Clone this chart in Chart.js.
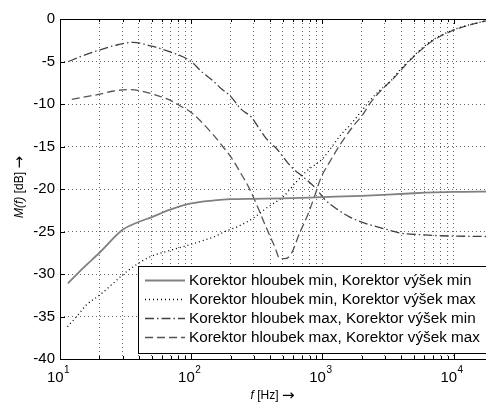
<!DOCTYPE html>
<html>
<head>
<meta charset="utf-8">
<script src="https://cdn.jsdelivr.net/npm/chart.js@4.4.0/dist/chart.umd.min.js"></script>
<style>
  html, body { margin: 0; padding: 0; background: #fff; overflow: hidden; }
  #wrap { width: 496px; height: 405px; }
</style>
</head>
<body>
<div id="wrap"><canvas id="graf" width="496" height="405"></canvas></div>
<script>
// hloubky min, výšky min
const fMinMin = [11.5, 15, 20, 30, 38, 50, 70, 100, 150, 200, 300, 500, 1000, 2000, 5000, 10000, 20000];
const dbMinMin = [-31.1, -29.3, -27.5, -24.8, -24.0, -23.3, -22.4, -21.7, -21.35, -21.2, -21.15, -21.1, -20.95, -20.8, -20.5, -20.35, -20.3];
// hloubky min, výšky max
const fMinMax = [11.4, 13.4, 16, 20, 25, 30, 40, 50, 70, 100, 150, 181, 228, 306, 386, 504, 614, 758, 1010, 1160, 1390, 1620, 2020, 2300, 2740, 3270, 3800, 4640, 6600, 9900, 20000];
const dbMinMax = [-36.2, -35.0, -33.6, -32.5, -31.2, -30.1, -28.7, -27.9, -27.2, -26.5, -25.6, -25.0, -24.4, -23.3, -22.1, -20.9, -19.4, -17.9, -16.4, -15.2, -13.6, -12.5, -10.7, -9.6, -8.4, -7.4, -6.2, -4.8, -2.7, -1.3, 0];
// hloubky max, výšky min
const fMaxMin = [11.6, 15, 20, 28, 36, 50, 70, 100, 120, 145, 170, 200, 240, 290, 330, 385, 445, 580, 730, 900, 1040, 1300, 1620, 2000, 3000, 4000, 6000, 8000, 20000];
const dbMaxMin = [-5.0, -4.3, -3.65, -3.0, -2.75, -3.2, -3.9, -5.0, -6.2, -7.2, -8.2, -9.1, -10.6, -11.6, -12.9, -14.3, -15.2, -17.4, -18.7, -20.0, -21.2, -22.4, -23.3, -23.9, -24.7, -25.2, -25.4, -25.5, -25.6];
// hloubky max, výšky max
const fMaxMax = [12.3, 15, 20, 25, 34, 50, 70, 82, 100, 147, 174, 200, 236, 281, 325, 375, 434, 475, 520, 580, 670, 780, 870, 980, 1100, 1390, 1700, 2020, 2370, 2880, 3430, 4640, 6600, 9900, 20000];
const dbMaxMax = [-9.45, -9.2, -8.85, -8.5, -8.3, -8.8, -9.6, -10.2, -11.0, -13.6, -15.0, -16.2, -18.0, -20.1, -22.3, -24.6, -26.8, -28.2, -28.2, -27.6, -25.2, -22.9, -20.9, -18.6, -17.2, -14.6, -12.7, -11.3, -9.7, -8.2, -7.1, -4.9, -2.8, -1.35, 0];

const popisky = [
  "Korektor hloubek min, Korektor výšek min",
  "Korektor hloubek min, Korektor výšek max",
  "Korektor hloubek max, Korektor výšek min",
  "Korektor hloubek max, Korektor výšek max"
];

// osa x: dekády a pomocné čáry mřížky
const dekady = [10, 100, 1000, 10000];
const exponenty = ["1", "2", "3", "4"];
const mrizkaF = [];
dekady.forEach(d => { for (let k = 1; k <= 9; k++) mrizkaF.push(d * k); });
const yTicks = [0, -5, -10, -15, -20, -25, -30, -35, -40];

const FONT = "'Liberation Sans', Arial, sans-serif";
const SIPKA = "'DejaVu Sans', sans-serif";
Chart.defaults.font.family = FONT;
Chart.defaults.color = "#000";

const body = (f, db) => f.map((v, i) => ({ x: v, y: db[i] }));

// text "kurzíva + zbytek + šipka" vycentrovaný na (0,0)
function popisOsy(ctx, kurziva, zbytek) {
  ctx.font = "italic 12px " + FONT;
  const w1 = ctx.measureText(kurziva).width;
  ctx.font = "12px " + FONT;
  const w2 = ctx.measureText(zbytek).width;
  ctx.font = "15px " + SIPKA;
  const w3 = ctx.measureText("\u2192").width;
  let sx = -(w1 + w2 + w3) / 2;
  ctx.textBaseline = "middle";
  ctx.textAlign = "left";
  ctx.font = "italic 12px " + FONT;
  ctx.fillText(kurziva, sx, 0);
  ctx.font = "12px " + FONT;
  ctx.fillText(zbytek, sx + w1, 0);
  ctx.font = "15px " + SIPKA;
  ctx.fillText("\u2192", sx + w1 + w2, 0);
}

const ramecek = {
  id: "ramecek",
  afterDraw(chart) {
    const { ctx, chartArea: a, scales: { x, y } } = chart;
    ctx.save();
    // značky dovnitř (styl Matlab)
    ctx.strokeStyle = "#000";
    ctx.lineWidth = 1;
    ctx.setLineDash([]);
    ctx.beginPath();
    mrizkaF.forEach(f => {
      if (f <= 10 || f >= 20000) return;
      const px = Math.round(x.getPixelForValue(f)) + 0.5;
      const len = dekady.includes(f) ? 5 : 3;
      ctx.moveTo(px, a.bottom); ctx.lineTo(px, a.bottom - len);
      ctx.moveTo(px, a.top); ctx.lineTo(px, a.top + len);
    });
    yTicks.forEach(v => {
      const py = Math.round(y.getPixelForValue(v)) + 0.5;
      ctx.moveTo(a.left, py); ctx.lineTo(a.left + 5, py);
      ctx.moveTo(a.right, py); ctx.lineTo(a.right - 5, py);
    });
    ctx.stroke();
    ctx.strokeRect(Math.round(a.left) + 0.5, Math.round(a.top) + 0.5,
      Math.round(a.right - a.left), Math.round(a.bottom - a.top));

    // popisky osy x: 10^n
    ctx.fillStyle = "#000";
    ctx.textBaseline = "alphabetic";
    ctx.textAlign = "left";
    dekady.forEach((d, i) => {
      const px = x.getPixelForValue(d);
      ctx.font = "15px " + FONT;
      const w1 = ctx.measureText("10").width;
      ctx.font = "10px " + FONT;
      const w2 = ctx.measureText(exponenty[i]).width;
      const x0 = px - (w1 + w2) / 2 - 2;
      ctx.font = "15px " + FONT;
      ctx.fillText("10", x0, 382);
      ctx.font = "10px " + FONT;
      ctx.fillText(exponenty[i], x0 + w1 + 0.5, 373);
    });

    // název osy x
    ctx.save();
    ctx.translate((a.left + a.right) / 2 - 4, 396);
    popisOsy(ctx, "f", " [Hz] ");
    ctx.restore();

    // název osy y
    ctx.save();
    ctx.translate(20, (a.top + a.bottom) / 2 - 2);
    ctx.rotate(-Math.PI / 2);
    popisOsy(ctx, "M(f)", " [dB] ");
    ctx.restore();

    // legenda
    const lx = 138, ly = 266, lb = 353, lr = a.right - 4;
    ctx.fillStyle = "#fff";
    ctx.fillRect(lx, ly, lr - lx, lb - ly);
    ctx.strokeStyle = "#000";
    ctx.lineWidth = 1;
    ctx.strokeRect(lx + 0.5, ly + 0.5, lr - lx, lb - ly);
    chart.data.datasets.forEach((ds, i) => {
      const yy = 280 + i * 18.9;
      ctx.strokeStyle = ds.borderColor;
      ctx.lineWidth = ds.borderWidth;
      ctx.setLineDash(ds.borderDash || []);
      ctx.beginPath();
      ctx.moveTo(145, Math.round(yy) + 0.5);
      ctx.lineTo(185, Math.round(yy) + 0.5);
      ctx.stroke();
      ctx.setLineDash([]);
      ctx.fillStyle = "#000";
      ctx.font = "14px " + FONT;
      ctx.textBaseline = "middle";
      ctx.save();
      ctx.translate(189, yy + 1);
      ctx.scale(1.09, 1);
      ctx.fillText(ds.label, 0, 0);
      ctx.restore();
    });
    ctx.restore();
  }
};

new Chart(document.getElementById("graf"), {
  type: "line",
  data: {
    datasets: [
      { label: popisky[0], data: body(fMinMin, dbMinMin), borderColor: "#808080", borderWidth: 1.8, borderDash: [] },
      { label: popisky[1], data: body(fMinMax, dbMinMax), borderColor: "#000000", borderWidth: 1.3, borderDash: [1, 3] },
      { label: popisky[2], data: body(fMaxMin, dbMaxMin), borderColor: "#404040", borderWidth: 1.3, borderDash: [9, 3, 1.5, 3] },
      { label: popisky[3], data: body(fMaxMax, dbMaxMax), borderColor: "#555555", borderWidth: 1.3, borderDash: [8, 4] }
    ]
  },
  options: {
    responsive: false,
    animation: false,
    cubicInterpolationMode: "monotone",
    elements: { point: { radius: 0 } },
    layout: { padding: { top: 19, right: 3, left: 0, bottom: 0 } },
    plugins: { legend: { display: false }, tooltip: { enabled: false } },
    scales: {
      x: {
        type: "logarithmic",
        min: 10,
        max: 20000,
        afterBuildTicks: s => { s.ticks = mrizkaF.map(v => ({ value: v })); },
        afterFit: s => { s.height = 46; },
        ticks: { display: false },
        grid: { color: "#666", lineWidth: 1, drawTicks: false },
        border: { display: false, dash: [1, 3] }
      },
      y: {
        min: -40,
        max: 0,
        afterBuildTicks: s => { s.ticks = yTicks.map(v => ({ value: v })); },
        afterFit: s => { s.width = 60; },
        ticks: { font: { size: 15 }, padding: 5, color: "#000" },
        grid: { color: "#666", lineWidth: 1, drawTicks: false },
        border: { display: false, dash: [1, 3] }
      }
    }
  },
  plugins: [ramecek]
});
</script>
</body>
</html>
